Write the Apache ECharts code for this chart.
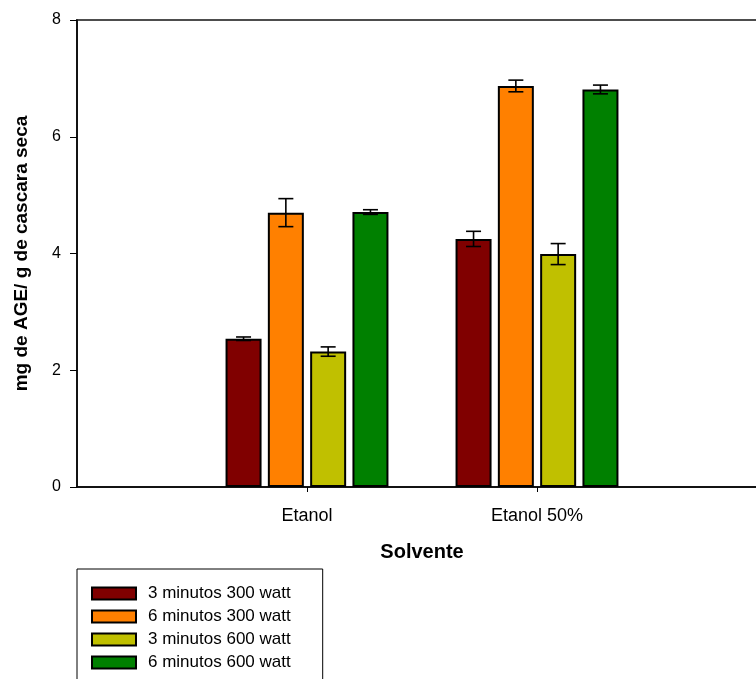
<!DOCTYPE html>
<html>
<head>
<meta charset="utf-8">
<script src="https://cdn.jsdelivr.net/npm/echarts@6/dist/echarts.min.js"></script>
<style>
  html, body { margin: 0; padding: 0; background: #ffffff; }
  #chart { width: 756px; height: 679px; }
</style>
</head>
<body>
<div id="chart"></div>
<script>
// Category slots: empty slots at both ends keep the two solvents away from the edges
const categories = ['', 'Etanol', 'Etanol 50%', ''];

const seriesNames = ['3 minutos 300 watt', '6 minutos 300 watt', '3 minutos 600 watt', '6 minutos 600 watt'];
const seriesColors = ['#800000', '#ff8000', '#c0c000', '#008000'];

// Mean values (mg de AGE / g de cascara seca)
const m3min300w = ['-', 2.54, 4.25, '-'];
const m6min300w = ['-', 4.70, 6.87, '-'];
const m3min600w = ['-', 2.32, 3.99, '-'];
const m6min600w = ['-', 4.71, 6.81, '-'];

// Standard deviations
const sd3min300w = [0, 0.03, 0.13, 0];
const sd6min300w = [0, 0.24, 0.10, 0];
const sd3min600w = [0, 0.08, 0.18, 0];
const sd6min600w = [0, 0.04, 0.075, 0];

const yTicks = [0, 2, 4, 6, 8];

const means = [m3min300w, m6min300w, m3min600w, m6min600w];
const sds = [sd3min300w, sd6min300w, sd3min600w, sd6min600w];

const FONT = '"Liberation Sans", Arial, Helvetica, sans-serif';
const BAR_W = 36;
const BAR_GAP = 0.175;
const PITCH = BAR_W * (1 + BAR_GAP);
const CAP = 7.5;

const barSeries = seriesNames.map((name, s) => ({
  name: name,
  type: 'bar',
  data: means[s],
  barWidth: BAR_W,
  barGap: (BAR_GAP * 100) + '%',
  itemStyle: { color: seriesColors[s], borderColor: '#000', borderWidth: 2 },
  emphasis: { disabled: true },
  silent: true
}));

// Error bar data: [category index, mean, sd, series index]
const errData = [];
means.forEach((arr, s) => {
  arr.forEach((v, i) => {
    if (v !== '-') errData.push([i, v, sds[s][i], s]);
  });
});

const errSeries = {
  type: 'custom',
  name: 'sd',
  data: errData,
  encode: { x: 0, y: 1 },
  z: 10,
  silent: true,
  renderItem: function (params, api) {
    const ci = api.value(0);
    const v = api.value(1);
    const e = api.value(2);
    const s = api.value(3);
    const base = api.coord([ci, v]);
    const x = base[0] + (s - 1.5) * PITCH;
    const yTop = api.coord([ci, v + e])[1];
    const yBot = api.coord([ci, v - e])[1];
    const st = { stroke: '#000', lineWidth: 1.6 };
    return {
      type: 'group',
      children: [
        { type: 'line', shape: { x1: x, y1: yTop, x2: x, y2: yBot }, style: st },
        { type: 'line', shape: { x1: x - CAP, y1: yTop, x2: x + CAP, y2: yTop }, style: st },
        { type: 'line', shape: { x1: x - CAP, y1: yBot, x2: x + CAP, y2: yBot }, style: st }
      ]
    };
  }
};

const chart = echarts.init(document.getElementById('chart'), null, { renderer: 'canvas' });

chart.setOption({
  animation: false,
  backgroundColor: '#ffffff',
  textStyle: { fontFamily: FONT, color: '#000' },
  grid: {
    left: 77,
    top: 20,
    width: 690,
    height: 467,
    show: true,
    borderColor: '#4d4d4d',
    borderWidth: 2,
    backgroundColor: 'transparent',
    containLabel: false,
    outerBoundsMode: 'none'
  },
  legend: {
    data: seriesNames,
    orient: 'vertical',
    left: 77,
    top: 569,
    height: 140,
    padding: [16, 32, 40, 14],
    itemWidth: 44,
    itemHeight: 12,
    itemGap: 6,
    icon: 'rect',
    borderColor: '#000',
    borderWidth: 1,
    selectedMode: false,
    textStyle: { fontFamily: FONT, fontSize: 17, color: '#000', padding: [0, 0, 0, 7] }
  },
  xAxis: {
    type: 'category',
    data: categories,
    boundaryGap: false,
    name: 'Solvente',
    nameLocation: 'middle',
    nameGap: 55,
    nameTextStyle: { fontFamily: FONT, fontSize: 20, fontWeight: 'bold', color: '#000' },
    axisLine: { lineStyle: { color: '#000', width: 1.5 } },
    axisTick: {
      length: 5,
      interval: function (i) { return i === 1 || i === 2; },
      lineStyle: { color: '#000', width: 1 }
    },
    axisLabel: {
      interval: 0,
      margin: 20,
      fontFamily: FONT,
      fontSize: 18,
      color: '#000'
    },
    splitLine: { show: false }
  },
  yAxis: {
    type: 'value',
    min: yTicks[0],
    max: yTicks[yTicks.length - 1],
    interval: 2,
    name: 'mg de AGE/ g de cascara seca',
    nameLocation: 'middle',
    nameGap: 46,
    nameTextStyle: { fontFamily: FONT, fontSize: 19, fontWeight: 'bold', color: '#000' },
    axisLine: { show: true, lineStyle: { color: '#000', width: 1.5 } },
    axisTick: { show: true, length: 7, lineStyle: { color: '#000', width: 1 } },
    axisLabel: { margin: 16, fontFamily: FONT, fontSize: 16, color: '#000' },
    splitLine: { show: false }
  },
  series: barSeries.concat([errSeries])
});
</script>
</body>
</html>
